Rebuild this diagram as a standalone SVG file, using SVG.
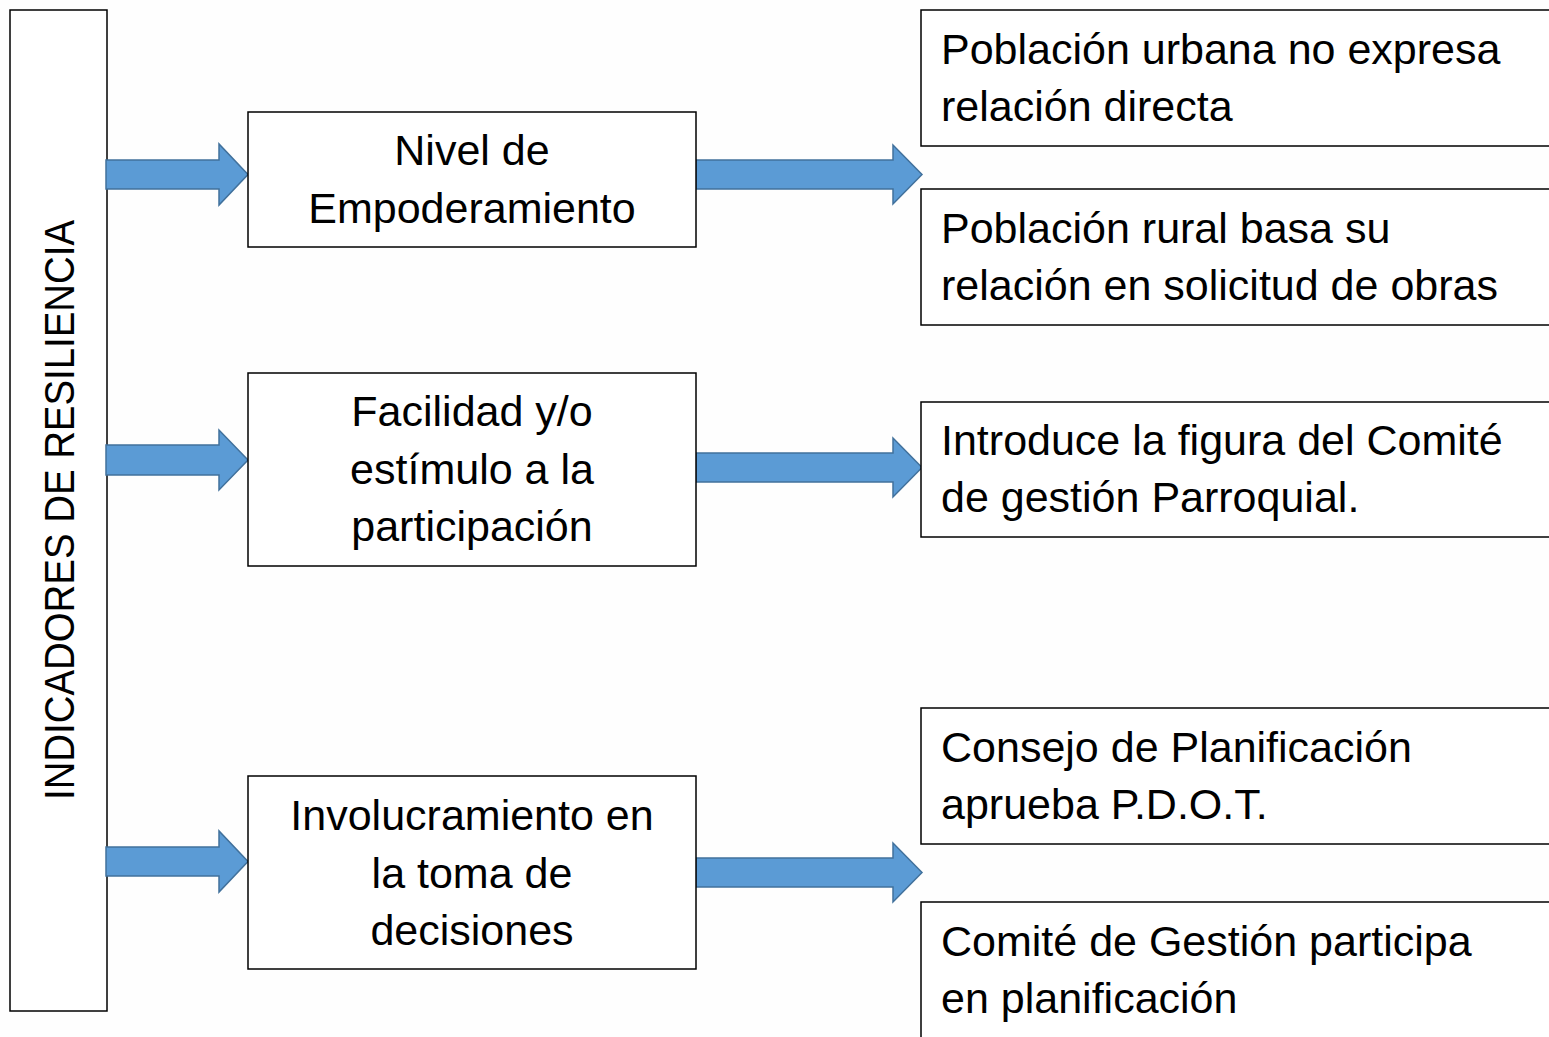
<svg xmlns="http://www.w3.org/2000/svg" width="1549" height="1037" viewBox="0 0 1549 1037">
<style>
.box{fill:#fff;stroke:#000;stroke-width:1.5}
.arr{fill:#5B9BD5;stroke:#41719C;stroke-width:1.5;stroke-linejoin:miter}
text{font-family:"Liberation Sans",Arial,sans-serif;font-size:43px;fill:#000}
.c{text-anchor:middle}
</style>
<rect width="1549" height="1037" fill="#fefefe"/>
<g id="indicadores">
<rect class="box" x="10" y="10" width="97" height="1001"/>
<text class="c" transform="translate(74,510) rotate(-90)" font-size="40" textLength="580" lengthAdjust="spacingAndGlyphs">INDICADORES DE RESILIENCIA</text>
</g>
<g id="connectors">
<path class="arr" d="M106,160 H219 V144 L248,174.5 L219,205 V189 H106 Z"/>
<path class="arr" d="M696,160 H893 V145 L922,174.5 L893,204 V189 H696 Z"/>
<path class="arr" d="M106,445 H219 V430 L248,460 L219,490 V475 H106 Z"/>
<path class="arr" d="M696,453 H893 V438 L922,467.5 L893,497 V482 H696 Z"/>
<path class="arr" d="M106,847 H219 V831 L248,861.5 L219,892 V876 H106 Z"/>
<path class="arr" d="M696,858 H893 V843 L922,872.5 L893,902 V887 H696 Z"/>
</g>
<g id="empoderamiento">
<rect class="box" x="248" y="112" width="448" height="135"/>
<text class="c" x="472" y="165">Nivel de</text>
<text class="c" x="472" y="223">Empoderamiento</text>
</g>
<g id="facilidad">
<rect class="box" x="248" y="373" width="448" height="193"/>
<text class="c" x="472" y="426">Facilidad y/o</text>
<text class="c" x="472" y="484">estímulo a la</text>
<text class="c" x="472" y="541">participación</text>
</g>
<g id="involucramiento">
<rect class="box" x="248" y="776" width="448" height="193"/>
<text class="c" x="472" y="830">Involucramiento en</text>
<text class="c" x="472" y="888">la toma de</text>
<text class="c" x="472" y="945">decisiones</text>
</g>
<g id="urbana">
<rect class="box" x="921" y="10" width="640" height="136"/>
<text x="941" y="64">Población urbana no expresa</text>
<text x="941" y="121">relación directa</text>
</g>
<g id="rural">
<rect class="box" x="921" y="189" width="640" height="136"/>
<text x="941" y="243">Población rural basa su</text>
<text x="941" y="300">relación en solicitud de obras</text>
</g>
<g id="comite">
<rect class="box" x="921" y="402" width="640" height="135"/>
<text x="941" y="455">Introduce la figura del Comité</text>
<text x="941" y="512">de gestión Parroquial.</text>
</g>
<g id="consejo">
<rect class="box" x="921" y="708" width="640" height="136"/>
<text x="941" y="762">Consejo de Planificación</text>
<text x="941" y="819">aprueba P.D.O.T.</text>
</g>
<g id="gestion">
<rect class="box" x="921" y="902" width="640" height="150"/>
<text x="941" y="956">Comité de Gestión participa</text>
<text x="941" y="1013">en planificación</text>
</g>
</svg>
